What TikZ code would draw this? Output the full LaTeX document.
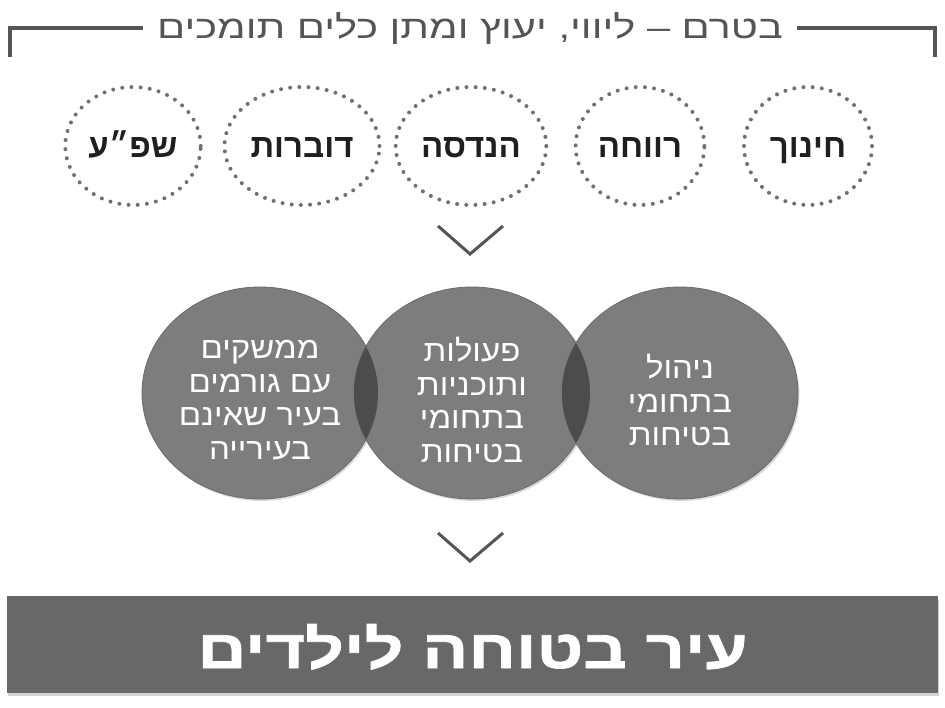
\documentclass[tikz,border=0pt]{standalone}
\usepackage{fontspec}
\setmainfont{Liberation Sans}
\newfontfamily\hebfont[Script=Hebrew]{Liberation Sans}
\newfontfamily\hebwide[Script=Hebrew,FakeStretch=1.3]{Liberation Sans}
\newfontfamily\hebmid[Script=Hebrew,FakeStretch=1.1]{Liberation Sans}
\newfontfamily\hebbar[Script=Hebrew,FakeStretch=1.26,FakeBold=1.5]{Liberation Sans}
\usetikzlibrary{shapes.geometric,shadows,positioning}
\TeXXeTstate=1
\definecolor{linegray}{HTML}{555555}
\definecolor{dotgray}{HTML}{707070}
\definecolor{circgray}{HTML}{7D7D7D}
\definecolor{circedge}{HTML}{6A6A6A}
\definecolor{lensgray}{HTML}{4C4C4C}
\definecolor{bargray}{HTML}{686868}

\begin{document}
\begin{tikzpicture}[x=1pt,y=-1pt,
  title/.style={text=linegray,font=\hebwide\fontsize{32}{32}\selectfont,text height=21pt,text depth=0pt,inner xsep=14pt},
  bracket/.style={draw=linegray,line width=4pt},
  dotcirc/.style={ellipse,draw=dotgray,line width=4pt,dash pattern=on 0pt off 9.2pt,line cap=round,
    minimum width=128pt,minimum height=118pt,text=black!88,
    font=\hebfont\bfseries\fontsize{33}{33}\selectfont,text height=22pt,text depth=0pt},
  bigcirc/.style={ellipse,fill=circgray,draw=circedge,line width=.8pt,minimum width=236pt,minimum height=212pt,
    drop shadow={shadow xshift=1.5pt,shadow yshift=-2pt,opacity=.3}},
  circtext/.style={align=center,text=white,font=\hebmid\fontsize{30}{33.5}\selectfont,yshift=-7pt},
  chev/.style={draw=linegray,line width=3pt},
  bar/.style={fill=bargray,minimum width=931pt,minimum height=97pt,text=white,
    font=\hebbar\bfseries\fontsize{54}{54}\selectfont,text height=47pt,text depth=0pt,
    drop shadow={shadow xshift=1pt,shadow yshift=-3pt,opacity=.35}}]
\useasboundingbox (0,0) rectangle (945,707);

\node[title] (head) at (470,28) {\beginR בטרם – ליווי, יעוץ ומתן כלים תומכים\endR};
\coordinate (tl) at (10,28);
\coordinate (bl) at (10,57);
\coordinate (tr) at (935,28);
\coordinate (br) at (935,57);
\draw[bracket] (bl) -- (tl) -- (head.west);
\draw[bracket] (head.east) -- (tr) -- (br);

\node[dotcirc] (shefa) at (133,146) {\beginR שפ״ע\endR};
\node[dotcirc] (dovrut) at (302,146) {\beginR דוברות\endR};
\node[dotcirc] (handasa) at (471,146) {\beginR הנדסה\endR};
\node[dotcirc] (revaha) at (640,146) {\beginR רווחה\endR};
\node[dotcirc] (hinuch) at (808,146) {\beginR חינוך\endR};

\coordinate (chevA) at (470,254);
\draw[chev] (chevA) ++(-32,-28) -- (chevA) -- ++(33,-28);

\node[bigcirc,label={[circtext]center:{\beginR ממשקים\endR\\\beginR עם גורמים\endR\\\beginR בעיר שאינם\endR\\\beginR בעירייה\endR}}] (links) at (260,393) {};
\node[bigcirc,label={[circtext]center:{\beginR פעולות\endR\\\beginR ותוכניות\endR\\\beginR בתחומי\endR\\\beginR בטיחות\endR}}] (peulot) at (472,393) {};
\node[bigcirc,label={[circtext]center:{\beginR ניהול\endR\\\beginR בתחומי\endR\\\beginR בטיחות\endR}}] (nihul) at (680,393) {};
\begin{scope}
  \clip (links.center) ellipse (118 and 106);
  \fill[lensgray] (peulot.center) ellipse (118 and 106);
\end{scope}
\begin{scope}
  \clip (peulot.center) ellipse (118 and 106);
  \fill[lensgray] (nihul.center) ellipse (118 and 106);
\end{scope}

\coordinate (chevB) at (470,561);
\draw[chev] (chevB) ++(-32,-28) -- (chevB) -- ++(33,-28);

\node[bar] (city) at (472.5,644.5) {\beginR עיר בטוחה לילדים\endR};
\end{tikzpicture}
\end{document}
